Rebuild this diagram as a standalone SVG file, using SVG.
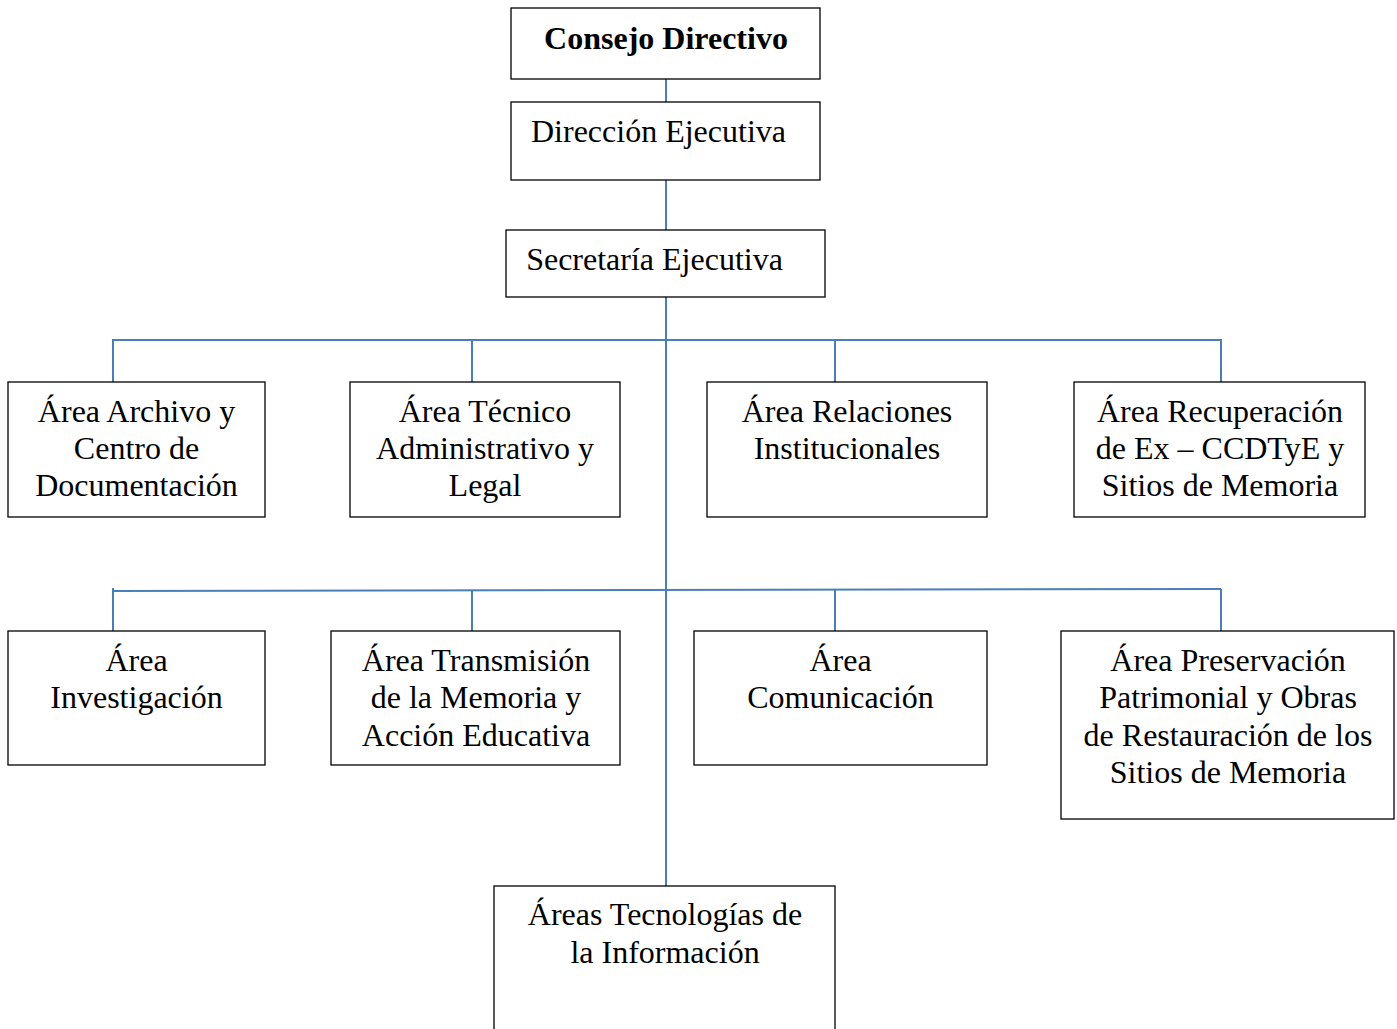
<svg xmlns="http://www.w3.org/2000/svg" width="1397" height="1029" viewBox="0 0 1397 1029">
<style>
.box{fill:#fff;stroke:#000;stroke-width:1.3}
.t{font-family:"Liberation Serif","Times New Roman",serif;font-size:32px;fill:#000;text-anchor:middle}
.b{font-weight:bold}
.c{fill:none;stroke:#4a7ebb;stroke-width:2}
</style>
<rect width="1397" height="1029" fill="#fff"/>
<g id="connectors">
<line class="c" x1="666" y1="79" x2="666" y2="102"/>
<line class="c" x1="666" y1="180" x2="666" y2="230"/>
<line class="c" x1="666" y1="297" x2="666" y2="886"/>
<polyline class="c" points="113,382 113,340 1221,340 1221,382"/>
<line class="c" x1="472" y1="340" x2="472" y2="382"/>
<line class="c" x1="835" y1="340" x2="835" y2="382"/>
<polyline class="c" points="113,631 113,588"/>
<line class="c" x1="113" y1="591" x2="1221" y2="589"/>
<line class="c" x1="1221" y1="589" x2="1221" y2="631"/>
<line class="c" x1="472" y1="590" x2="472" y2="631"/>
<line class="c" x1="835" y1="590" x2="835" y2="631"/>
</g>
<g id="consejo"><rect class="box" x="511" y="8" width="309" height="71"/><text class="t b" x="666" y="49">Consejo Directivo</text></g>
<g id="direccion"><rect class="box" x="511" y="102" width="309" height="78"/><text class="t" x="658.5" y="142">Dirección Ejecutiva</text></g>
<g id="secretaria"><rect class="box" x="506" y="230" width="319" height="67"/><text class="t" x="654.5" y="270">Secretaría Ejecutiva</text></g>
<g id="archivo"><rect class="box" x="8" y="382" width="257" height="135"/><text class="t" x="136.5" y="422">Área Archivo y<tspan x="136.5" dy="37">Centro de</tspan><tspan x="136.5" dy="37">Documentación</tspan></text></g>
<g id="tecnico"><rect class="box" x="350" y="382" width="270" height="135"/><text class="t" x="485" y="422">Área Técnico<tspan x="485" dy="37">Administrativo y</tspan><tspan x="485" dy="37">Legal</tspan></text></g>
<g id="relaciones"><rect class="box" x="707" y="382" width="280" height="135"/><text class="t" x="847" y="422">Área Relaciones<tspan x="847" dy="37">Institucionales</tspan></text></g>
<g id="recuperacion"><rect class="box" x="1074" y="382" width="291" height="135"/><text class="t" x="1220" y="422">Área Recuperación<tspan x="1220" dy="37">de Ex – CCDTyE y</tspan><tspan x="1220" dy="37">Sitios de Memoria</tspan></text></g>
<g id="investigacion"><rect class="box" x="8" y="631" width="257" height="134"/><text class="t" x="136.5" y="671">Área<tspan x="136.5" dy="37.3">Investigación</tspan></text></g>
<g id="transmision"><rect class="box" x="331" y="631" width="289" height="134"/><text class="t" x="476" y="671">Área Transmisión<tspan x="476" dy="37.3">de la Memoria y</tspan><tspan x="476" dy="37.3">Acción Educativa</tspan></text></g>
<g id="comunicacion"><rect class="box" x="694" y="631" width="293" height="134"/><text class="t" x="840.5" y="671">Área<tspan x="840.5" dy="37.3">Comunicación</tspan></text></g>
<g id="preservacion"><rect class="box" x="1061" y="631" width="333" height="188"/><text class="t" x="1228" y="671">Área Preservación<tspan x="1228" dy="37.3">Patrimonial y Obras</tspan><tspan x="1228" dy="37.3">de Restauración de los</tspan><tspan x="1228" dy="37.3">Sitios de Memoria</tspan></text></g>
<g id="tecnologias"><rect class="box" x="494" y="886" width="341" height="160"/><text class="t" x="665" y="925">Áreas Tecnologías de<tspan x="665" dy="37.5">la Información</tspan></text></g>
</svg>
